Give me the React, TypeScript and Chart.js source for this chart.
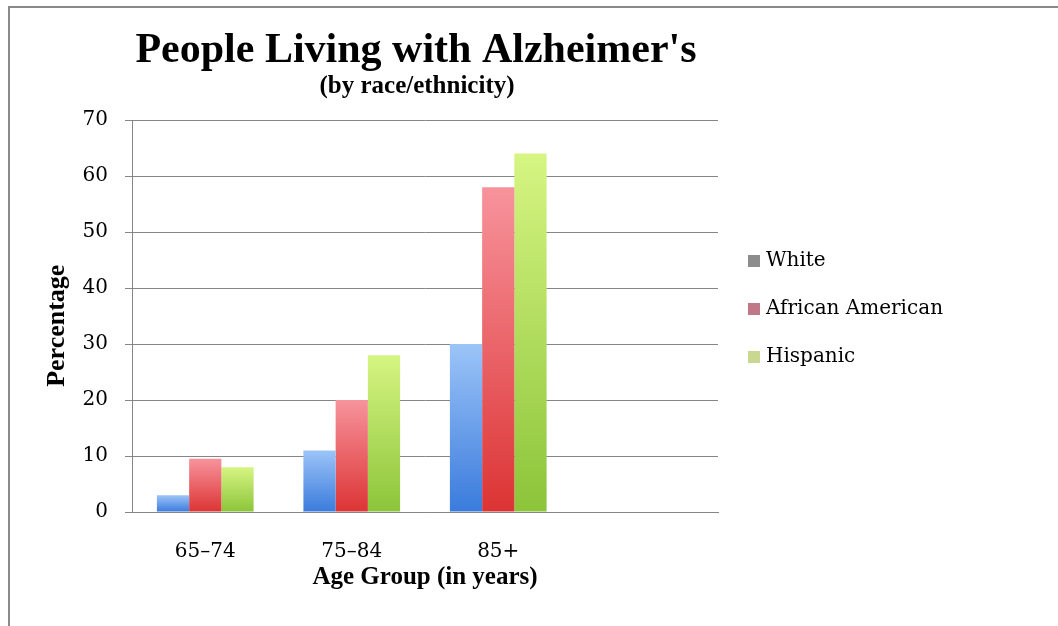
import React, { useEffect, useRef } from "react";
import { Chart, registerables } from "chart.js";

Chart.register(...registerables);

const categories = ["65–74", "75–84", "85+", ""];
const seriesNames = ["White", "African American", "Hispanic"];
const whiteValues = [3, 11, 30, null];
const africanAmericanValues = [9.5, 20, 58, null];
const hispanicValues = [8, 28, 64, null];
const yTicks = [0, 10, 20, 30, 40, 50, 60, 70];

const titleText = "People Living with Alzheimer's";
const subtitleText = "(by race/ethnicity)";
const xTitle = "Age Group (in years)";
const yTitle = "Percentage   ";

const barColors = [
  { top: "#9cc4f8", bottom: "#3a7bdc" },
  { top: "#f7939c", bottom: "#dc3434" },
  { top: "#d6f582", bottom: "#8cc43a" },
];
const legendColors = ["#8c8c8c", "#c07888", "#c8d890"];

const SERIF = "'DejaVu Serif', serif";
const BOLD_SERIF = "'Liberation Serif', serif";

function barGradient(ctx: any, idx: number) {
  const chart = ctx.chart;
  const area = chart.chartArea;
  if (!area || ctx.raw == null) return barColors[idx].bottom;
  const y = chart.scales.y;
  const top = y.getPixelForValue(ctx.raw);
  const bottom = y.getPixelForValue(0);
  const g = chart.ctx.createLinearGradient(0, top, 0, bottom);
  g.addColorStop(0, barColors[idx].top);
  g.addColorStop(1, barColors[idx].bottom);
  return g;
}

const decorPlugin = {
  id: "decor",
  afterDraw(chart: any) {
    const c = chart.ctx;
    c.save();
    // frame
    c.fillStyle = "#8a8a8a";
    c.fillRect(8, 6, 1058 - 8, 2);
    c.fillRect(8, 6, 2, 626 - 6);
    // titles
    c.fillStyle = "#000";
    c.textAlign = "center";
    c.textBaseline = "alphabetic";
    c.font = `bold 42px ${BOLD_SERIF}`;
    c.fillText(titleText, 416, 62);
    c.font = `bold 25px ${BOLD_SERIF}`;
    c.fillText(subtitleText, 417, 93);
    // legend
    const ys = [260, 308, 356];
    c.font = `20px ${SERIF}`;
    c.textAlign = "left";
    c.textBaseline = "middle";
    seriesNames.forEach((name, i) => {
      c.fillStyle = legendColors[i];
      c.fillRect(748, ys[i] - 5, 12, 12);
      c.fillStyle = "#000";
      c.fillText(name, 766, ys[i] + 1);
    });
    c.restore();
  },
};

export default function App() {
  const ref = useRef<HTMLCanvasElement | null>(null);
  useEffect(() => {
    if (!ref.current) return;
    const datasets = [whiteValues, africanAmericanValues, hispanicValues].map(
      (vals, i) => ({
        label: seriesNames[i],
        data: vals,
        backgroundColor: (ctx: any) => barGradient(ctx, i),
        borderWidth: 0,
        categoryPercentage: 0.66,
        barPercentage: 1.0,
      })
    );
    const chart = new Chart(ref.current, {
      type: "bar",
      data: { labels: categories, datasets },
      plugins: [decorPlugin],
      options: {
        animation: false,
        responsive: false,
        maintainAspectRatio: false,
        layout: { padding: { left: 30, right: 340, top: 120, bottom: 30 } },
        plugins: {
          legend: { display: false },
          title: { display: false },
          tooltip: { enabled: false },
        },
        scales: {
          x: {
            grid: { display: false },
            border: { display: true, color: "#868686", width: 1 },
            ticks: {
              color: "#000",
              font: { family: SERIF, size: 20 },
              padding: 20,
            },
            title: {
              display: true,
              text: xTitle,
              color: "#000",
              font: { family: BOLD_SERIF, size: 25, weight: "bold" },
              padding: { top: 0, bottom: 3 },
            },
            afterFit(scale: any) {
              scale.height = 84;
            },
          },
          y: {
            min: 0,
            max: 70,
            afterBuildTicks(scale: any) {
              scale.ticks = yTicks.map((v) => ({ value: v }));
            },
            grid: {
              color: "#868686",
              lineWidth: 1,
              tickLength: 7,
            },
            border: { display: true, color: "#868686", width: 1 },
            ticks: {
              color: "#000",
              font: { family: SERIF, size: 20 },
              padding: 17,
            },
            title: {
              display: true,
              text: yTitle,
              color: "#000",
              font: { family: BOLD_SERIF, size: 26, weight: "bold" },
              padding: { top: 12, bottom: 0 },
            },
            afterFit(scale: any) {
              scale.width = 102;
            },
          },
        },
      } as any,
    });
    return () => chart.destroy();
  }, []);
  return (
    <div style={{ position: "absolute", left: 0, top: 0, width: 1058, height: 626, background: "#fff" }}>
      <canvas ref={ref} width={1058} height={626} style={{ display: "block" }} />
    </div>
  );
}
